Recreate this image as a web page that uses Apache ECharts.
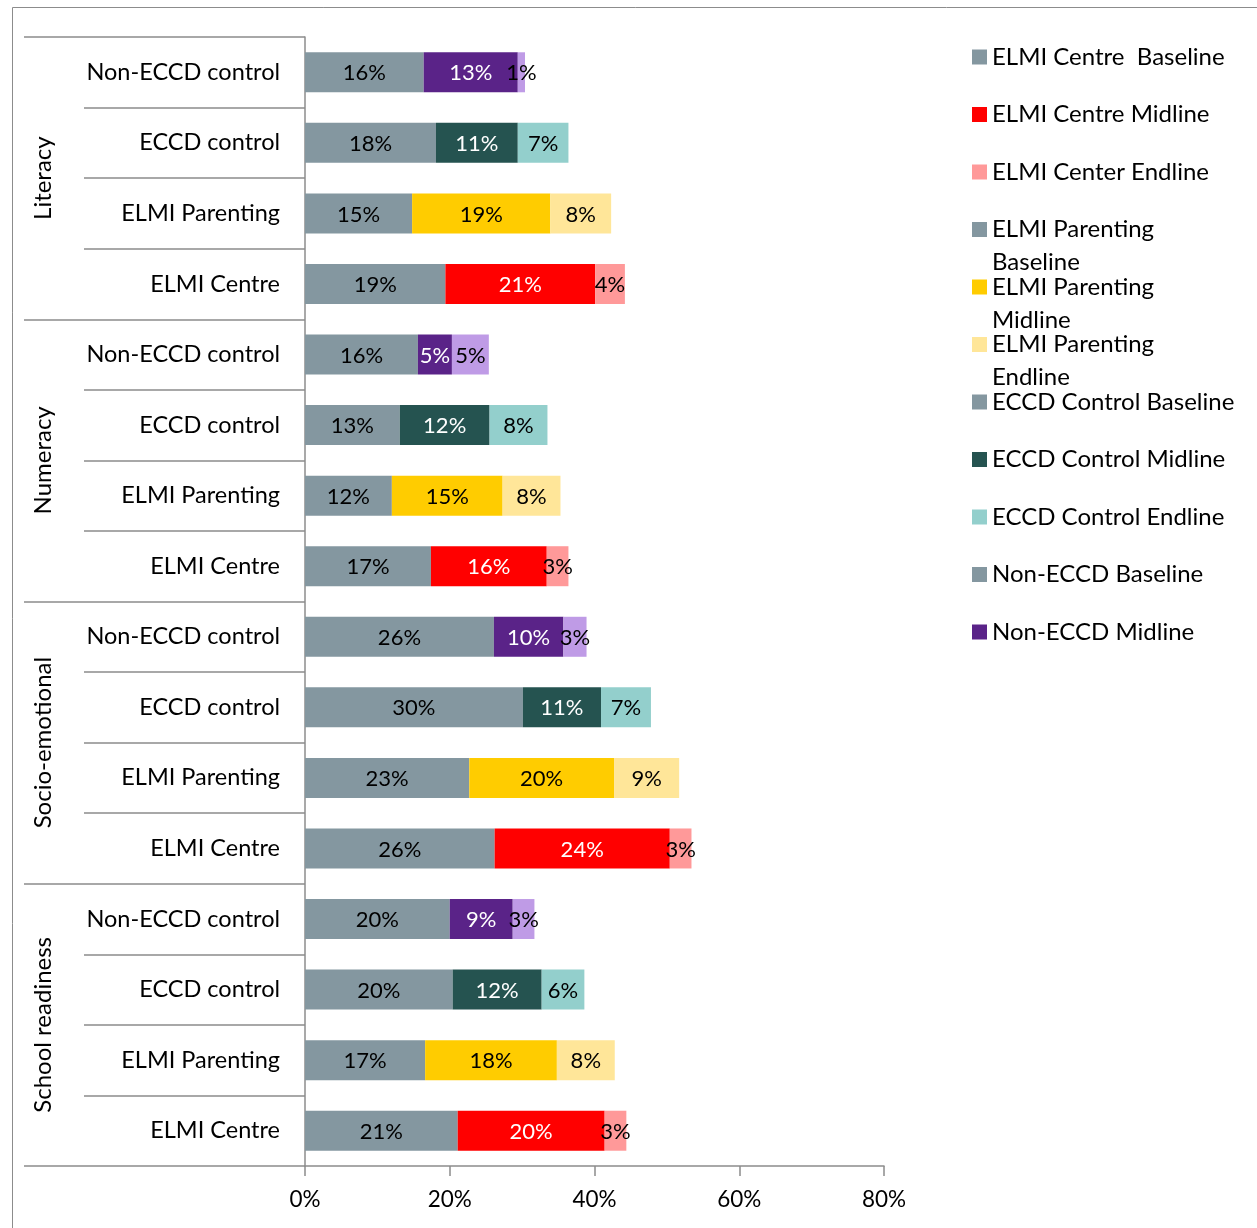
<!DOCTYPE html>
<html>
<head>
<meta charset="utf-8">
<script src="https://cdn.jsdelivr.net/npm/echarts@6/dist/echarts.min.js"></script>
<style>
  html, body { margin: 0; padding: 0; background: #fff; }
  #chart { width: 1257px; height: 1228px; }
</style>
</head>
<body>
<div id="chart"></div>
<script>
// groups (outer level) and programmes (inner level), top to bottom
var groups = ["Literacy", "Numeracy", "Socio-emotional", "School readiness"];
var programmes = ["Non-ECCD control", "ECCD control", "ELMI Parenting", "ELMI Centre"];
var xTicks = [0, 20, 40, 60, 80];

// values per programme, one per group (Literacy, Numeracy, Socio-emotional, School readiness)
var elmiCentreBaseline = [19.4, 17.4, 26.2, 21.1];
var elmiCentreMidline = [20.7, 16.0, 24.2, 20.3];
var elmiCentreEndline = [4.1, 3.0, 3.0, 3.0];
var elmiParentingBaseline = [14.8, 12.0, 22.7, 16.6];
var elmiParentingMidline = [19.1, 15.3, 20.0, 18.2];
var elmiParentingEndline = [8.4, 8.0, 9.0, 8.0];
var eccdBaseline = [18.1, 13.1, 30.1, 20.4];
var eccdMidline = [11.3, 12.4, 10.8, 12.3];
var eccdEndline = [7.0, 8.0, 6.9, 5.9];
var nonEccdBaseline = [16.4, 15.6, 26.1, 20.0];
var nonEccdMidline = [13.0, 4.7, 9.6, 8.7];
var nonEccdEndline = [1.0, 5.1, 3.2, 3.0];

// legend entries shown in the picture (Non-ECCD Endline is cut off there)
var legendNames = [
  "ELMI Centre  Baseline", "ELMI Centre Midline", "ELMI Center Endline",
  "ELMI Parenting Baseline", "ELMI Parenting Midline", "ELMI Parenting Endline",
  "ECCD Control Baseline", "ECCD Control Midline", "ECCD Control Endline",
  "Non-ECCD Baseline", "Non-ECCD Midline"
];

(function () {
  var FONT = "Lato";
  var GREY = "#8497a0";
  var AXIS = "#8c8c8c";

  // rows: every group has the 4 programmes
  var rows = [];
  groups.forEach(function () {
    programmes.forEach(function (p) { rows.push(p); });
  });

  // put a programme's values onto its rows, null elsewhere
  function spread(progName, values) {
    var out = [];
    groups.forEach(function (g, gi) {
      programmes.forEach(function (p) {
        out.push(p === progName ? values[gi] : null);
      });
    });
    return out;
  }

  var seriesDefs = [
    { name: "ELMI Centre  Baseline", prog: "ELMI Centre", v: elmiCentreBaseline, color: GREY, text: "#000" },
    { name: "ELMI Centre Midline", prog: "ELMI Centre", v: elmiCentreMidline, color: "#ff0000", text: "#fff" },
    { name: "ELMI Center Endline", prog: "ELMI Centre", v: elmiCentreEndline, color: "#ff9999", text: "#000" },
    { name: "ELMI Parenting Baseline", prog: "ELMI Parenting", v: elmiParentingBaseline, color: GREY, text: "#000" },
    { name: "ELMI Parenting Midline", prog: "ELMI Parenting", v: elmiParentingMidline, color: "#ffcc00", text: "#000" },
    { name: "ELMI Parenting Endline", prog: "ELMI Parenting", v: elmiParentingEndline, color: "#ffe699", text: "#000" },
    { name: "ECCD Control Baseline", prog: "ECCD control", v: eccdBaseline, color: GREY, text: "#000" },
    { name: "ECCD Control Midline", prog: "ECCD control", v: eccdMidline, color: "#255350", text: "#fff" },
    { name: "ECCD Control Endline", prog: "ECCD control", v: eccdEndline, color: "#93cfcc", text: "#000" },
    { name: "Non-ECCD Baseline", prog: "Non-ECCD control", v: nonEccdBaseline, color: GREY, text: "#000" },
    { name: "Non-ECCD Midline", prog: "Non-ECCD control", v: nonEccdMidline, color: "#5a2388", text: "#fff" },
    { name: "Non-ECCD Endline", prog: "Non-ECCD control", v: nonEccdEndline, color: "#bf9be6", text: "#000" }
  ];

  var series = seriesDefs.map(function (s) {
    return {
      name: s.name,
      type: "bar",
      stack: "total",
      barWidth: 40,
      data: spread(s.prog, s.v),
      itemStyle: { color: s.color },
      label: {
        show: true,
        position: "inside",
        offset: [0, 1],
        color: s.text,
        fontFamily: FONT,
        fontSize: 22,
        formatter: function (p) { return Math.round(p.value) + "%"; }
      }
    };
  });

  // one legend per entry so the spacing stays even when the text wraps;
  // wrapped entries get a leading blank line so the icon sits on the first line
  var legends = legendNames.map(function (n, i) {
    var wrap = n.indexOf("ELMI Parenting ") === 0;
    return {
      data: [n],
      left: 972,
      top: 40.5 + i * 57.5 - (wrap ? 33 : 0),
      padding: 0,
      icon: "rect",
      itemWidth: 15,
      itemHeight: 15,
      formatter: function (name) {
        return wrap ? "\n" + name.replace("ELMI Parenting ", "ELMI Parenting\n") : name;
      },
      textStyle: {
        fontFamily: FONT,
        fontSize: 24,
        color: "#000",
        lineHeight: 33
      }
    };
  });

  var myChart = echarts.init(document.getElementById("chart"));
  var option = {
    animation: false,
    backgroundColor: "#fff",
    graphic: [
      {
        type: "rect",
        shape: { x: 12.5, y: 7.5, width: 1300, height: 1300 },
        style: { fill: null, stroke: AXIS, lineWidth: 1 },
        silent: true
      }
    ],
    legend: legends,
    grid: { left: 305, right: 373, top: 37, bottom: 62, containLabel: false },
    xAxis: {
      type: "value",
      min: xTicks[0],
      max: xTicks[xTicks.length - 1],
      interval: 20,
      axisLine: { show: true, lineStyle: { color: AXIS, width: 1.5 } },
      axisTick: { show: true, length: 10, lineStyle: { color: AXIS, width: 1.5 } },
      splitLine: { show: false },
      axisLabel: {
        margin: 22,
        color: "#000",
        fontFamily: FONT,
        fontSize: 22.5,
        formatter: "{value}%"
      }
    },
    yAxis: [
      {
        type: "category",
        data: rows,
        inverse: true,
        position: "left",
        axisLine: { show: true, lineStyle: { color: AXIS, width: 1.5 } },
        axisTick: { show: true, length: 221, lineStyle: { color: AXIS, width: 1.5 } },
        axisLabel: {
          margin: 25,
          color: "#000",
          fontFamily: FONT,
          fontSize: 23.5
        }
      },
      {
        type: "category",
        data: groups,
        inverse: true,
        position: "left",
        axisLine: { show: false },
        axisTick: { show: true, length: 281, lineStyle: { color: AXIS, width: 1.5 } },
        axisLabel: {
          rotate: 90,
          margin: 250,
          color: "#000",
          fontFamily: FONT,
          fontSize: 24
        }
      }
    ],
    series: series
  };
  myChart.setOption(option);
  window.addEventListener("resize", function () {
    myChart.resize();
  });
})();
</script>
</body>
</html>
